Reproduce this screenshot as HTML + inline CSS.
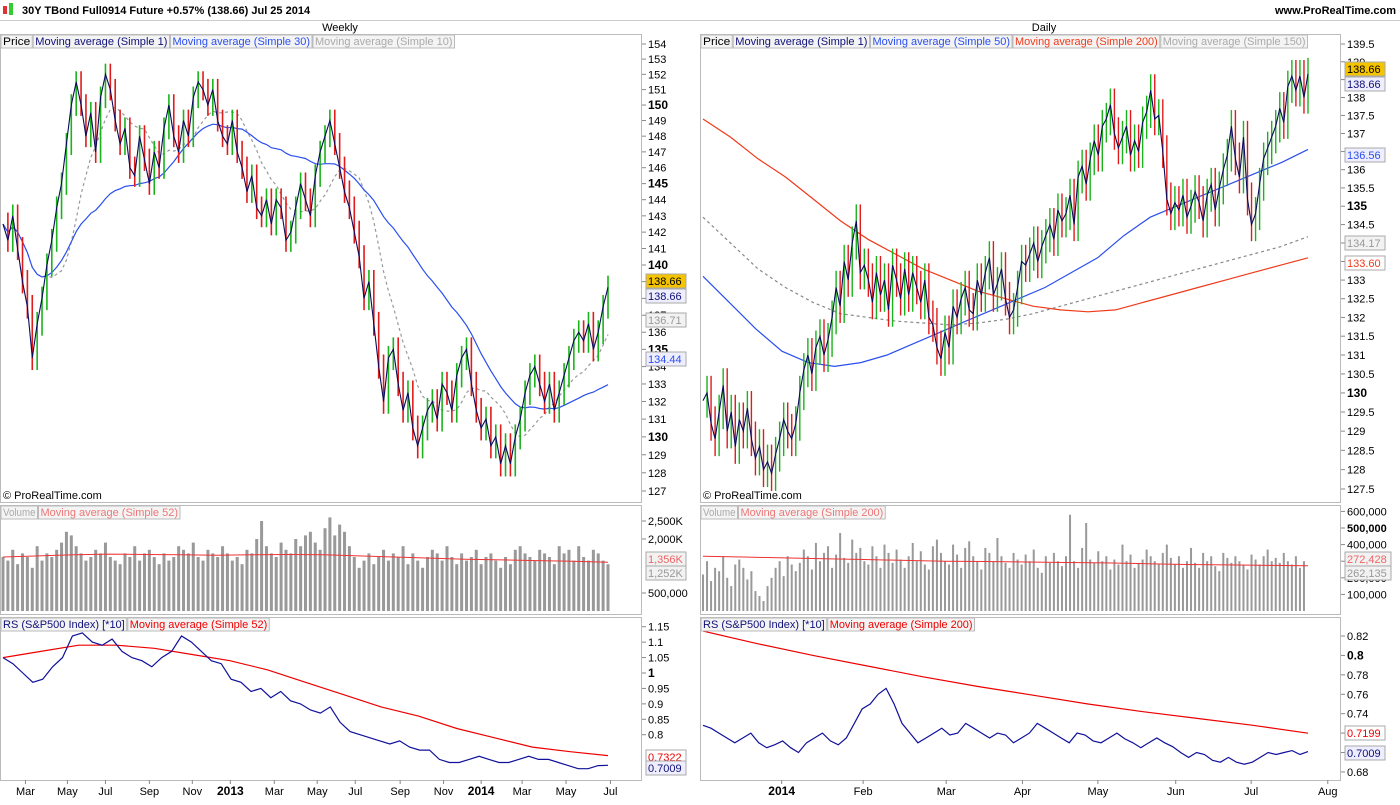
<!DOCTYPE html>
<html><head><meta charset="utf-8"><style>
body{margin:0;background:#fff;font-family:"Liberation Sans",Arial,sans-serif}
svg text{font-family:"Liberation Sans",Arial,sans-serif}
</style></head><body>
<svg id="c" width="1400" height="800" xmlns="http://www.w3.org/2000/svg">
<rect width="1400" height="800" fill="#fff"/>
<g>
<rect x="3" y="6" width="4" height="8" fill="#d33"/><rect x="9" y="3" width="4" height="12" fill="#3c3"/>
<text x="22" y="14" font-size="11" font-weight="bold">30Y TBond Full0914 Future   +0.57% (138.66)   Jul 25 2014</text>
<text x="1396" y="14" font-size="11" font-weight="bold" text-anchor="end">www.ProRealTime.com</text>
<line x1="0" y1="20.5" x2="1400" y2="20.5" stroke="#ccc"/>
</g>
<text x="340" y="31" font-size="11" text-anchor="middle">Weekly</text>
<text x="1044" y="31" font-size="11" text-anchor="middle">Daily</text>
<g id="g"></g>
</svg>
<script>
// ===== Weekly data =====
const wCloses=[142.5,141.5,143,141,139,137.5,134.5,136.5,138,140,141.5,143.5,145,147.5,150,151.5,150,148,149.5,147,150.5,152,151,149,147.5,148.5,146,145.5,148,146.5,145,147,146,148.5,150,148,147,149,148,150.5,151.5,151,150,151,149,148,147.5,149,147,146,144.5,145.5,143.5,143,144,142.5,144,143.5,141.5,142,143.5,145,144,143,145.5,147,148,149,147.5,146,144.5,143.5,142,140.5,138,139,136.5,134,132,134.5,135,133,131.5,132.5,130.5,129.5,130.5,131.5,132,131,133,132.5,131.5,133.5,134.5,135,133,131.5,130.5,131,129.5,130,128.5,129.5,128.5,130,131,132.5,133.5,134,133,132,133,131.5,132.5,133.5,134.5,135.5,136,135.5,136.5,135,136,137.5,138.66];
const wVolK=[1500,1400,1700,1300,1600,1500,1200,1800,1400,1600,1500,1700,1900,2200,2100,1800,1600,1400,1500,1700,1600,1900,1500,1400,1300,1600,1500,1800,1400,1600,1700,1500,1300,1600,1400,1500,1800,1700,1600,1900,1500,1400,1700,1600,1500,1800,1600,1400,1500,1300,1700,1600,2000,2500,1800,1600,1500,1900,1700,1600,2000,1800,2100,2200,1900,1700,2300,2600,2100,2400,2200,1800,1500,1200,1400,1600,1300,1500,1700,1400,1600,1500,1800,1300,1600,1400,1200,1500,1700,1600,1400,1800,1500,1300,1600,1400,1500,1700,1300,1500,1600,1400,1200,1500,1300,1700,1800,1600,1500,1400,1700,1600,1500,1300,1800,1600,1700,1400,1800,1500,1400,1700,1600,1400,1300,1500,1400,1300];
const wRS=[1.05,1.03,1.0,0.97,0.98,1.02,1.05,1.12,1.13,1.10,1.09,1.11,1.07,1.05,1.04,1.02,1.05,1.07,1.12,1.10,1.07,1.04,1.03,0.98,0.97,0.94,0.95,0.92,0.94,0.91,0.90,0.88,0.87,0.89,0.84,0.81,0.80,0.79,0.78,0.77,0.78,0.76,0.75,0.75,0.72,0.71,0.71,0.72,0.73,0.72,0.71,0.71,0.72,0.73,0.72,0.72,0.71,0.70,0.69,0.69,0.70,0.7009];
const wRSma=[1.05,1.07,1.09,1.09,1.08,1.06,1.04,1.01,0.97,0.93,0.89,0.86,0.82,0.79,0.76,0.745,0.7322];
const wMonths=["Mar","May","Jul","Sep","Nov","2013","Mar","May","Jul","Sep","Nov","2014","Mar","May","Jul"];
const wMonthIdx=[4.6,13.2,21,30,38.8,46.6,55.6,64.4,72.2,81.4,90.3,98,106.4,115.4,124.5];
const wPriceTicks=[127,128,129,130,131,132,133,134,135,136,137,138,139,140,141,142,143,144,145,146,147,148,149,150,151,152,153,154];
const wVolTicks=[500,2000,2500];
const wRSTicks=[0.8,0.85,0.9,0.95,1,1.05,1.1,1.15];
// ===== Daily data =====
const dCloses=[129.8,130,129.2,128.8,129.5,130.2,129,129.5,128.6,129.3,129,129.6,128.8,128.3,128.6,128,128.2,127.9,128.4,128.8,129.3,129,128.8,129.2,130,130.6,131,130.5,131.2,131.5,131,131.4,132,132.8,132.3,133.5,133,134,134.6,133.2,133.4,133,132.4,133.2,132.6,133,132.2,133.4,133,132.5,133.3,132.6,133.2,132.8,132.4,133,132,131.8,131.2,130.9,131.6,131.2,132.3,132,132.5,132.8,132.2,132.1,133,132.6,133.2,133.6,132.6,132.9,133.3,132.5,132,132.2,132.8,133.5,133.4,133.7,134,133.5,133.9,134.2,134.5,134.1,134.9,134.6,134.8,135.3,134.5,135.8,136.1,135.6,136.3,136.8,136.4,137.2,137.4,137.8,137,136.6,136.9,137.2,136.4,136.8,136.5,137.3,137.6,138.2,137.4,137.5,136.5,135.2,134.8,135.1,134.9,135.3,134.7,135,135.4,135.1,134.6,135.3,135.6,134.9,135.5,136,136.4,137.2,136.3,135.8,136.9,135.2,134.5,134.8,135.6,136.3,136.6,136.9,137.2,137.7,137.3,138.3,138.6,138.2,138.6,138,138.66];
const dMA50=[133.1,132.4,131.7,131.1,130.8,130.7,130.8,131.0,131.3,131.6,131.9,132.2,132.5,132.8,133.2,133.6,134.2,134.7,135.0,135.3,135.6,135.9,136.2,136.56];
const dMA150=[134.7,134.0,133.3,132.8,132.4,132.1,132.0,131.9,131.85,131.8,131.85,131.95,132.1,132.3,132.5,132.7,132.9,133.1,133.3,133.5,133.7,133.9,134.17];
const dMA200=[137.4,136.9,136.3,135.8,135.2,134.6,134.1,133.7,133.3,133.0,132.7,132.5,132.3,132.2,132.15,132.2,132.4,132.6,132.8,133.0,133.2,133.4,133.6];
const dVolK=[220,300,180,260,240,330,200,150,280,310,260,190,240,120,90,60,150,200,260,300,210,330,280,240,290,370,330,250,410,300,350,390,260,340,470,320,290,430,350,380,300,280,390,330,260,400,350,290,370,310,260,330,410,300,360,280,250,390,430,350,300,280,400,340,260,380,420,330,300,250,380,350,300,440,330,290,260,350,310,280,340,300,370,260,230,330,290,350,300,270,330,580,300,260,380,530,310,290,360,300,330,250,310,280,400,300,340,260,290,310,370,330,300,280,350,400,320,280,330,260,300,380,290,260,350,300,330,270,240,350,320,290,330,300,280,250,340,310,280,330,370,300,320,290,350,300,280,330,260,300];
const dRS=[0.728,0.725,0.72,0.715,0.71,0.715,0.72,0.71,0.705,0.708,0.712,0.705,0.70,0.71,0.715,0.72,0.712,0.708,0.715,0.73,0.745,0.75,0.76,0.766,0.75,0.73,0.72,0.71,0.715,0.72,0.725,0.718,0.72,0.73,0.725,0.72,0.715,0.72,0.718,0.71,0.715,0.72,0.73,0.725,0.72,0.715,0.71,0.72,0.718,0.712,0.71,0.715,0.72,0.714,0.71,0.705,0.71,0.715,0.71,0.706,0.70,0.695,0.70,0.698,0.692,0.69,0.695,0.69,0.688,0.69,0.695,0.70,0.698,0.70,0.702,0.698,0.7009];
const dRSma=[0.825,0.812,0.80,0.789,0.778,0.768,0.759,0.750,0.742,0.735,0.728,0.7199];
const dMonths=["2014","Feb","Mar","Apr","May","Jun","Jul","Aug"];
const dMonthIdx=[19.5,39.7,60.3,79.2,97.9,117.2,135.9,154.9];
const dPriceTicks=[127.5,128,128.5,129,129.5,130,130.5,131,131.5,132,132.5,133,133.5,134,134.5,135,135.5,136,136.5,137,137.5,138,138.5,139,139.5];
const dVolTicks=[100,200,300,400,500,600];
const dRSTicks=[0.68,0.7,0.72,0.74,0.76,0.78,0.8,0.82];

const NS="http://www.w3.org/2000/svg";
const G=document.getElementById('g');
function mk(t,a,p){const e=document.createElementNS(NS,t);for(const k in a)e.setAttribute(k,a[k]);(p||G).appendChild(e);return e;}
function sma(a,n){return a.map((v,i)=>{const s=a.slice(Math.max(0,i-n+1),i+1);return s.reduce((x,y)=>x+y,0)/s.length;});}
function pathOf(vals,xf,yf){return vals.map((v,i)=>(i?'L':'M')+xf(i).toFixed(1)+','+yf(v).toFixed(1)).join(' ');}
function legend(x,y,items){let cx=x;items.forEach(it=>{const w=it[0].length*5.25+5;
 const r=mk('rect',{x:cx,y:y,width:w,height:13,fill:'#f4f4f4',stroke:'#bbb'});
 
 
 const t=mk('text',{x:cx+2,y:y+10,'font-size':11,fill:it[1],textLength:w-4,lengthAdjust:'spacingAndGlyphs'});t.textContent=it[0];
 
 
 cx+=w+1;});}
function tag(x,y,txt,fill,col){const w=txt.length*6+4;
 const r=mk('rect',{x:x,y:y-7,width:w,height:14,fill:fill,stroke:'#aaa'});
 
 
 const t=mk('text',{x:x+2,y:y+4,'font-size':11,fill:col});t.textContent=txt;
 
 }

function buildSide(o){
 const L=o.left,R=o.right,n=o.closes.length;
 const xf=i=>L+3+i*605/(n-1);
 [[34,502,'price-panel'],[505,614,'volume-panel'],[617,780,'rs-panel']].forEach(p=>{
  const r=mk('rect',{x:L+0.5,y:p[0]+0.5,width:R-L,height:p[1]-p[0],fill:'none',stroke:'#bbb'});
  
  });
 const py=v=>o.pTop+o.pK*Math.log(o.pMax/v);
 o.pTicks.forEach(v=>{const y=py(v);mk('line',{x1:R+1,y1:y,x2:R+5,y2:y,stroke:'#888'});
  const big=o.bold(v);const t=mk('text',{x:R+7,y:y+4,'font-size':big?12:11,'font-weight':big?'bold':'normal'});t.textContent=o.fmt(v);
  
  });
 o.maLines.forEach(m=>{const p=mk('path',{d:pathOf(m.vals,m.x||xf,py),fill:'none',stroke:m.col,'stroke-width':m.w||1.2,'stroke-dasharray':m.dash||''});
  
  });
 o.closes.forEach((c,i)=>{if(!i)return;const op=o.closes[i-1];const up=c>=op;
  const hi=Math.max(c,op)+o.wick,lo=Math.min(c,op)-o.wick;const x=xf(i);
  const l=mk('line',{x1:x,y1:py(hi),x2:x,y2:py(lo),stroke:up?'#1bb31b':'#e01b1b','stroke-width':o.bw});
  
  });
 const cl=mk('path',{d:pathOf(o.closes,xf,py),fill:'none',stroke:'#0a0a5a','stroke-width':1.1});
 
 
 const vy=v=>611-v*o.vK;
 o.vTicks.forEach(v=>{const y=vy(v);mk('line',{x1:R+1,y1:y,x2:R+5,y2:y,stroke:'#888'});
  const t=mk('text',{x:R+7,y:y+4,'font-size':11,'font-weight':o.vBold(v)?'bold':'normal'});t.textContent=o.vfmt(v);
  
  });
 o.vol.forEach((v,i)=>{if(i>=n)return;const x=xf(i);const r=mk('rect',{x:x-o.vw/2,y:vy(v),width:o.vw,height:611-vy(v),fill:'#999'});
  
  });
 const vma=o.volMA;const vmp=mk('path',{d:pathOf(vma,i=>xf(i*(n-1)/(vma.length-1)),vy),fill:'none',stroke:'#e33','stroke-width':1});
 
 
 const ry=v=>o.rTop-(v-o.rMax)*o.rK;
 o.rTicks.forEach(v=>{const y=ry(v);mk('line',{x1:R+1,y1:y,x2:R+5,y2:y,stroke:'#888'});
  const big=o.rBold(v);const t=mk('text',{x:R+7,y:y+4,'font-size':big?12:11,'font-weight':big?'bold':'normal'});t.textContent=String(v);
  
  });
 const rmp=mk('path',{d:pathOf(o.rsma,i=>xf(i*(n-1)/(o.rsma.length-1)),ry),fill:'none',stroke:'#e00','stroke-width':1.2});
 
 
 const rp=mk('path',{d:pathOf(o.rs,i=>xf(i*(n-1)/(o.rs.length-1)),ry),fill:'none',stroke:'#10109a','stroke-width':1.2});
 
 
 o.months.forEach((m,k)=>{const x=xf(o.monthIdx[k]);const b=/^\d/.test(m);
  mk('line',{x1:x,y1:780,x2:x,y2:784,stroke:'#888'});
  const t=mk('text',{x:x,y:795,'font-size':b?12:11,'font-weight':b?'bold':'normal','text-anchor':'middle'});t.textContent=m;
  
  });
 const wm=mk('text',{x:L+3,y:499,'font-size':11});wm.textContent='© ProRealTime.com';
 
 
 legend(L+1,35,o.legP);legend(L+1,506,o.legV);legend(L+1,618,o.legR);
 o.tags.forEach(t=>tag(R+5,t[0],t[1],t[2],t[3]));
}
const wMA30=sma(wCloses,30),wMA10=sma(wCloses,10);
buildSide({tag:'weekly',left:0,right:641,closes:wCloses,pTop:44,pMax:154,pK:447/Math.log(154/127),
 pTicks:wPriceTicks,bold:v=>v%5===0,fmt:v=>String(v),wick:0.7,bw:1.6,
 maLines:[{vals:wMA10,col:'#999',dash:'3,3',name:'ma10-line'},{vals:wMA30,col:'#2a4ff0',name:'ma30-line'}],
 vol:wVolK,vK:0.036,vw:3,vTicks:wVolTicks,vBold:v=>false,vfmt:v=>v===500?'500,000':(v/1000).toFixed(3).replace('.',',')+'K',
 volMA:[1500,1530,1560,1580,1570,1560,1550,1560,1570,1560,1530,1500,1470,1440,1420,1400,1380,1356],
 rs:wRS,rsma:wRSma,rTop:673,rMax:1,rK:308.6,rTicks:wRSTicks,rBold:v=>v===1,
 months:wMonths,monthIdx:wMonthIdx,
 legP:[['Price','#000'],['Moving average (Simple 1)','#10107a'],['Moving average (Simple 30)','#2a4ff0'],['Moving average (Simple 10)','#aaa']],
 legV:[['Volume','#aaa'],['Moving average (Simple 52)','#e77']],
 legR:[['RS (S&P500 Index) [*10]','#10107a'],['Moving average (Simple 52)','#e00']],
 tags:[[281,'138.66','#f5c400','#000'],[296,'138.66','#eef','#10107a'],[320,'136.71','#f2f2f2','#999'],[359,'134.44','#eef','#2a4ff0'],
   [559,'1,356K','#f2f2f2','#e66'],[573,'1,252K','#f2f2f2','#999'],[757,'0.7322','#fff','#e00'],[768,'0.7009','#eef','#10107a']]
});
const dn=dCloses.length;
buildSide({tag:'daily',left:700,right:1340,closes:dCloses,pTop:44,pMax:139.5,pK:445/Math.log(139.5/127.5),
 pTicks:dPriceTicks,bold:v=>v%5===0,fmt:v=>String(v),wick:0.45,bw:1.4,
 maLines:[{vals:dMA200,col:'#f03a1a',x:i=>703+i*605/(dMA200.length-1),name:'ma200-line'},
   {vals:dMA150,col:'#888',dash:'3,3',x:i=>703+i*605/(dMA150.length-1),name:'ma150-line'},
   {vals:dMA50,col:'#2a4ff0',x:i=>703+i*605/(dMA50.length-1),name:'ma50-line'}],
 vol:dVolK,vK:0.166,vw:2,vTicks:dVolTicks,vBold:v=>v===500,vfmt:v=>(v===500?'500,000':v+',000'),
 volMA:[330,325,320,315,310,305,300,298,295,292,290,285,280,278,275,272],
 rs:dRS,rsma:dRSma,rTop:636,rMax:0.82,rK:971,rTicks:dRSTicks,rBold:v=>v===0.8,
 months:dMonths,monthIdx:dMonthIdx,
 legP:[['Price','#000'],['Moving average (Simple 1)','#10107a'],['Moving average (Simple 50)','#2a4ff0'],['Moving average (Simple 200)','#f03a1a'],['Moving average (Simple 150)','#aaa']],
 legV:[['Volume','#aaa'],['Moving average (Simple 200)','#e77']],
 legR:[['RS (S&P500 Index) [*10]','#10107a'],['Moving average (Simple 200)','#e00']],
 tags:[[69,'138.66','#f5c400','#000'],[84,'138.66','#eef','#10107a'],[155,'136.56','#eef','#2a4ff0'],[243,'134.17','#f2f2f2','#999'],[263,'133.60','#fff','#f03a1a'],
   [559,'272,428','#f2f2f2','#e66'],[573,'262,135','#f2f2f2','#999'],[733,'0.7199','#fff','#e00'],[753,'0.7009','#eef','#10107a']]
});
</script>
</body></html>
